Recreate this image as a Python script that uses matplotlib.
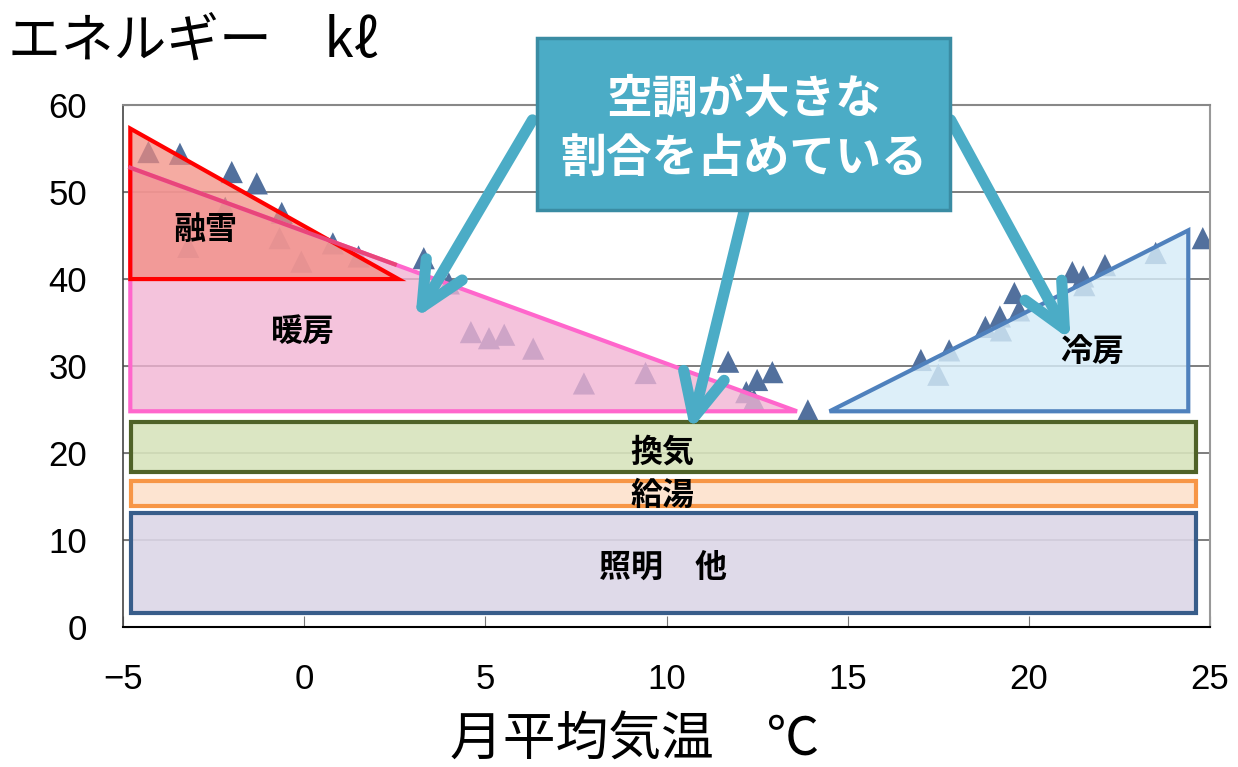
import matplotlib
matplotlib.use("Agg")
import matplotlib.pyplot as plt
from matplotlib.patches import Polygon, Rectangle, FancyArrowPatch

plt.rcParams['font.family'] = ['Noto Sans CJK JP', 'DejaVu Sans']

# Monthly mean temperature (°C) vs. monthly energy use (kℓ)
temps = [-4.30, -3.43, -2.00, -1.31, -0.62, -2.18, -3.20, -0.68, -0.08, 0.79,
         1.50, 3.30, 3.99, 4.60, 5.10, 5.52, 6.32, 7.72, 9.42, 11.70,
         12.50, 12.92, 12.20, 12.41, 13.90, 17.02, 17.80, 17.50, 18.80, 19.20,
         19.23, 19.60, 19.73, 21.20, 21.50, 21.53, 22.10, 23.50, 24.80]
energy = [54.6, 54.4, 52.3, 51.0, 47.6, 48.2, 43.7, 44.7, 42.0, 44.1,
          42.6, 42.4, 39.5, 33.9, 33.2, 33.6, 32.0, 28.0, 29.2, 30.5,
          28.4, 29.3, 27.0, 26.1, 24.9, 30.7, 31.8, 29.0, 34.5, 35.7,
          34.1, 38.4, 36.4, 40.8, 40.3, 39.3, 41.6, 43.0, 44.7]

# Load components (temperature, energy) outlines
snow_tri = [(-4.8, 57.3), (-4.8, 40.0), (2.6, 40.0)]
heat_tri = [(-4.8, 52.8), (-4.8, 24.8), (13.6, 24.8)]
cool_tri = [(14.5, 24.8), (24.4, 45.6), (24.4, 24.8)]
band_x = (-4.78, 24.61)
vent_band = (17.8, 23.6)
water_band = (13.9, 16.8)
light_band = (1.6, 13.1)

x_ticks = [-5, 0, 5, 10, 15, 20, 25]
y_ticks = [0, 10, 20, 30, 40, 50, 60]

fig = plt.figure(figsize=(12.38, 7.67), dpi=100)
ax = fig.add_axes([0.0994, 0.1825, 0.8780, 0.6805])
ax.set_xlim(-5, 25)
ax.set_ylim(0, 60)

for y in y_ticks[1:-1]:
    ax.axhline(y, color='#5a5a5a', lw=1.1, zorder=0)

ax.scatter(temps, energy, marker='^', s=16 ** 2, color='#52709d',
           edgecolors='none', zorder=1)

def tri(pts, fc, ec, alpha, lw=3):
    ax.add_patch(Polygon(pts, closed=True, facecolor=fc, edgecolor='none',
                         alpha=alpha, zorder=2))
    ax.add_patch(Polygon(pts, closed=True, facecolor='none', edgecolor=ec,
                         lw=lw, zorder=3, joinstyle='miter'))

tri(heat_tri, '#f2b3d3', '#ff66cc', 0.78)
tri(snow_tri, '#f28b7e', '#ff0000', 0.72)
# Heating hypotenuse where it crosses the snow-melting area
x_cross = 2.5
y_cross = heat_tri[0][1] + (heat_tri[1][1] - heat_tri[0][1]) * \
    (x_cross - heat_tri[0][0]) / (heat_tri[2][0] - heat_tri[0][0])
ax.plot([heat_tri[0][0], x_cross], [heat_tri[0][1], y_cross],
        color='#e8467a', lw=3, zorder=3)
tri(cool_tri, '#d6ecf8', '#4f81bd', 0.82)

def band(lims, fc, ec):
    ax.add_patch(Rectangle((band_x[0], lims[0]), band_x[1] - band_x[0],
                           lims[1] - lims[0], facecolor=fc, edgecolor='none',
                           alpha=0.9, zorder=2))
    ax.add_patch(Rectangle((band_x[0], lims[0]), band_x[1] - band_x[0],
                           lims[1] - lims[0], facecolor='none', edgecolor=ec,
                           lw=3, zorder=3))

band(vent_band, '#d7e4bd', '#4f6228')
band(water_band, '#fde2cc', '#f79646')
band(light_band, '#dcd6e7', '#385d8a')

lab = dict(fontsize=23, fontweight='bold', color='black', ha='center',
           va='center', zorder=5)
ax.text(-2.74, 45.6, '融雪', **lab)
ax.text(-0.03, 33.9, '暖房', **lab)
ax.text(21.74, 31.6, '冷房', **lab)
ax.text(9.88, 20.1, '換気', **lab)
ax.text(9.90, 15.1, '給湯', **lab)
ax.text(9.90, 6.8, '照明　他', **lab)

# Callout arrows and box
arrow_kw = dict(arrowstyle='->,head_length=1.05,head_width=0.5',
                mutation_scale=30, color='#4bacc6', lw=8,
                capstyle='round', joinstyle='round', zorder=6)
for start, end in [((6.3, 58.3), (3.07, 35.5)),
                   ((12.18, 48.5), (10.66, 22.6)),
                   ((17.84, 58.3), (21.15, 33.0))]:
    a = FancyArrowPatch(start, end, shrinkA=0, shrinkB=0, **arrow_kw)
    a.set_clip_on(False)
    ax.add_patch(a)

box = Rectangle((6.43, 47.9), 17.82 - 6.43, 67.7 - 47.9, facecolor='#4bacc6',
                edgecolor='#3a8ca3', lw=2.5, zorder=7, clip_on=False)
ax.add_patch(box)
ax.text(12.13, 60.6, '空調が大きな', fontsize=33, fontweight='bold',
        color='white', ha='center', va='center', zorder=8, clip_on=False)
ax.text(12.13, 53.7, '割合を占めている', fontsize=33, fontweight='bold',
        color='white', ha='center', va='center', zorder=8, clip_on=False)

ax.set_xticks(x_ticks)
ax.set_yticks(y_ticks)
ax.set_xticklabels([str(v).replace('-', '\u2212') for v in x_ticks])
ax.set_yticklabels([str(v) for v in y_ticks])
for t in ax.get_xticklabels() + ax.get_yticklabels():
    t.set_fontfamily(['Liberation Sans', 'DejaVu Sans'])
    t.set_fontsize(25)
ax.tick_params(axis='x', direction='in', length=8, color='#777777', pad=26)
ax.tick_params(axis='y', direction='in', length=4, color='#777777', pad=26)

ax.spines['bottom'].set_color('black')
ax.spines['bottom'].set_linewidth(1.5)
ax.spines['left'].set_color('#444444')
ax.spines['left'].set_linewidth(1.2)
ax.spines['top'].set_color('#888888')
ax.spines['top'].set_linewidth(1.5)
ax.spines['right'].set_color('#999999')
ax.spines['right'].set_linewidth(1.5)
ax.spines['right'].set_linestyle((0, (2, 1)))

fig.text(8 / 1238, 1 - 42 / 767, 'エネルギー　kℓ', fontsize=38,
         ha='left', va='center')
fig.text(635 / 1238, 1 - 740 / 767, '月平均気温　℃', fontsize=38,
         ha='center', va='center')

fig.savefig('out.png', dpi=100)
